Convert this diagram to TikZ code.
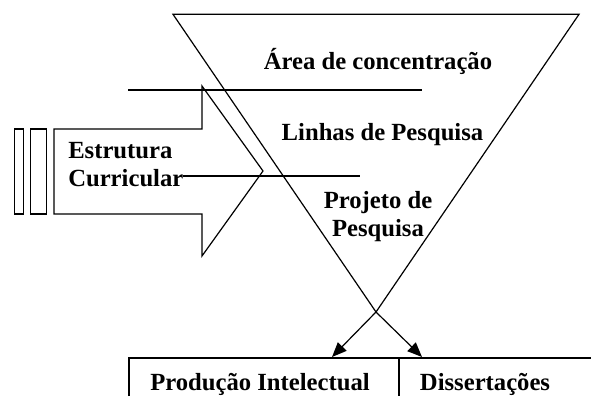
\documentclass[tikz,border=0pt]{standalone}
\usepackage{fontspec}
\setmainfont{Liberation Serif}
\usetikzlibrary{arrows.meta}
\tikzset{
  thinline/.style={line width=0.9pt},
  boxline/.style={line width=1.5pt},
  lbl/.style={font=\fontsize{18.5}{21.5}\selectfont\bfseries, inner sep=0pt},
  tipped/.style={thinline, -{Triangle[length=11pt,width=9pt]}}
}
\begin{document}
\begin{tikzpicture}[x=0.75pt,y=-0.75pt]
\useasboundingbox[fill=white] (0,0) rectangle (591,396);
% funnel triangle
\draw[thinline, line join=miter] (173,14.3) -- (579,14.3) -- (376,312) -- (173,14.3) -- cycle;
\coordinate (v) at (376,312);
\coordinate (t1) at (332,357);
\coordinate (t2) at (422,357);
% block arrow
\draw[thinline] (54,129) -- (202,129) -- (202,86) -- (263,171) -- (202,256) -- (202,214) -- (54,214) -- cycle;
\draw[thinline] (14.7,129) rectangle (23.3,214);
\draw[thinline] (30.7,129) rectangle (46.3,214);
% horizontal lines
\draw[thinline] (128,90) -- (422,90);
\draw[thinline] (183,176) -- (360,176);
% labels
\node[lbl, anchor=base] (area) at (378,69) {Área de concentração};
\node[lbl, anchor=base] (linhas) at (382.5,140) {Linhas de Pesquisa};
\node[lbl, anchor=base west, align=left] (estr) at (68,186.7) {Estrutura\\Curricular};
\node[lbl, anchor=base, align=center] (proj) at (378,236.7) {Projeto de\\Pesquisa};
% bottom boxes
\draw[boxline] (128.5,396) -- (128.5,357.5) -- (591,357.5);
\draw[boxline] (399.3,357.5) -- (399.3,396);
\node[lbl, anchor=base] (prod) at (260,390) {Produção Intelectual};
\node[lbl, anchor=base] (diss) at (485,390) {Dissertações};
% output arrows
\draw[tipped] (v) -- (t1);
\draw[tipped] (v) -- (t2);
\end{tikzpicture}
\end{document}
